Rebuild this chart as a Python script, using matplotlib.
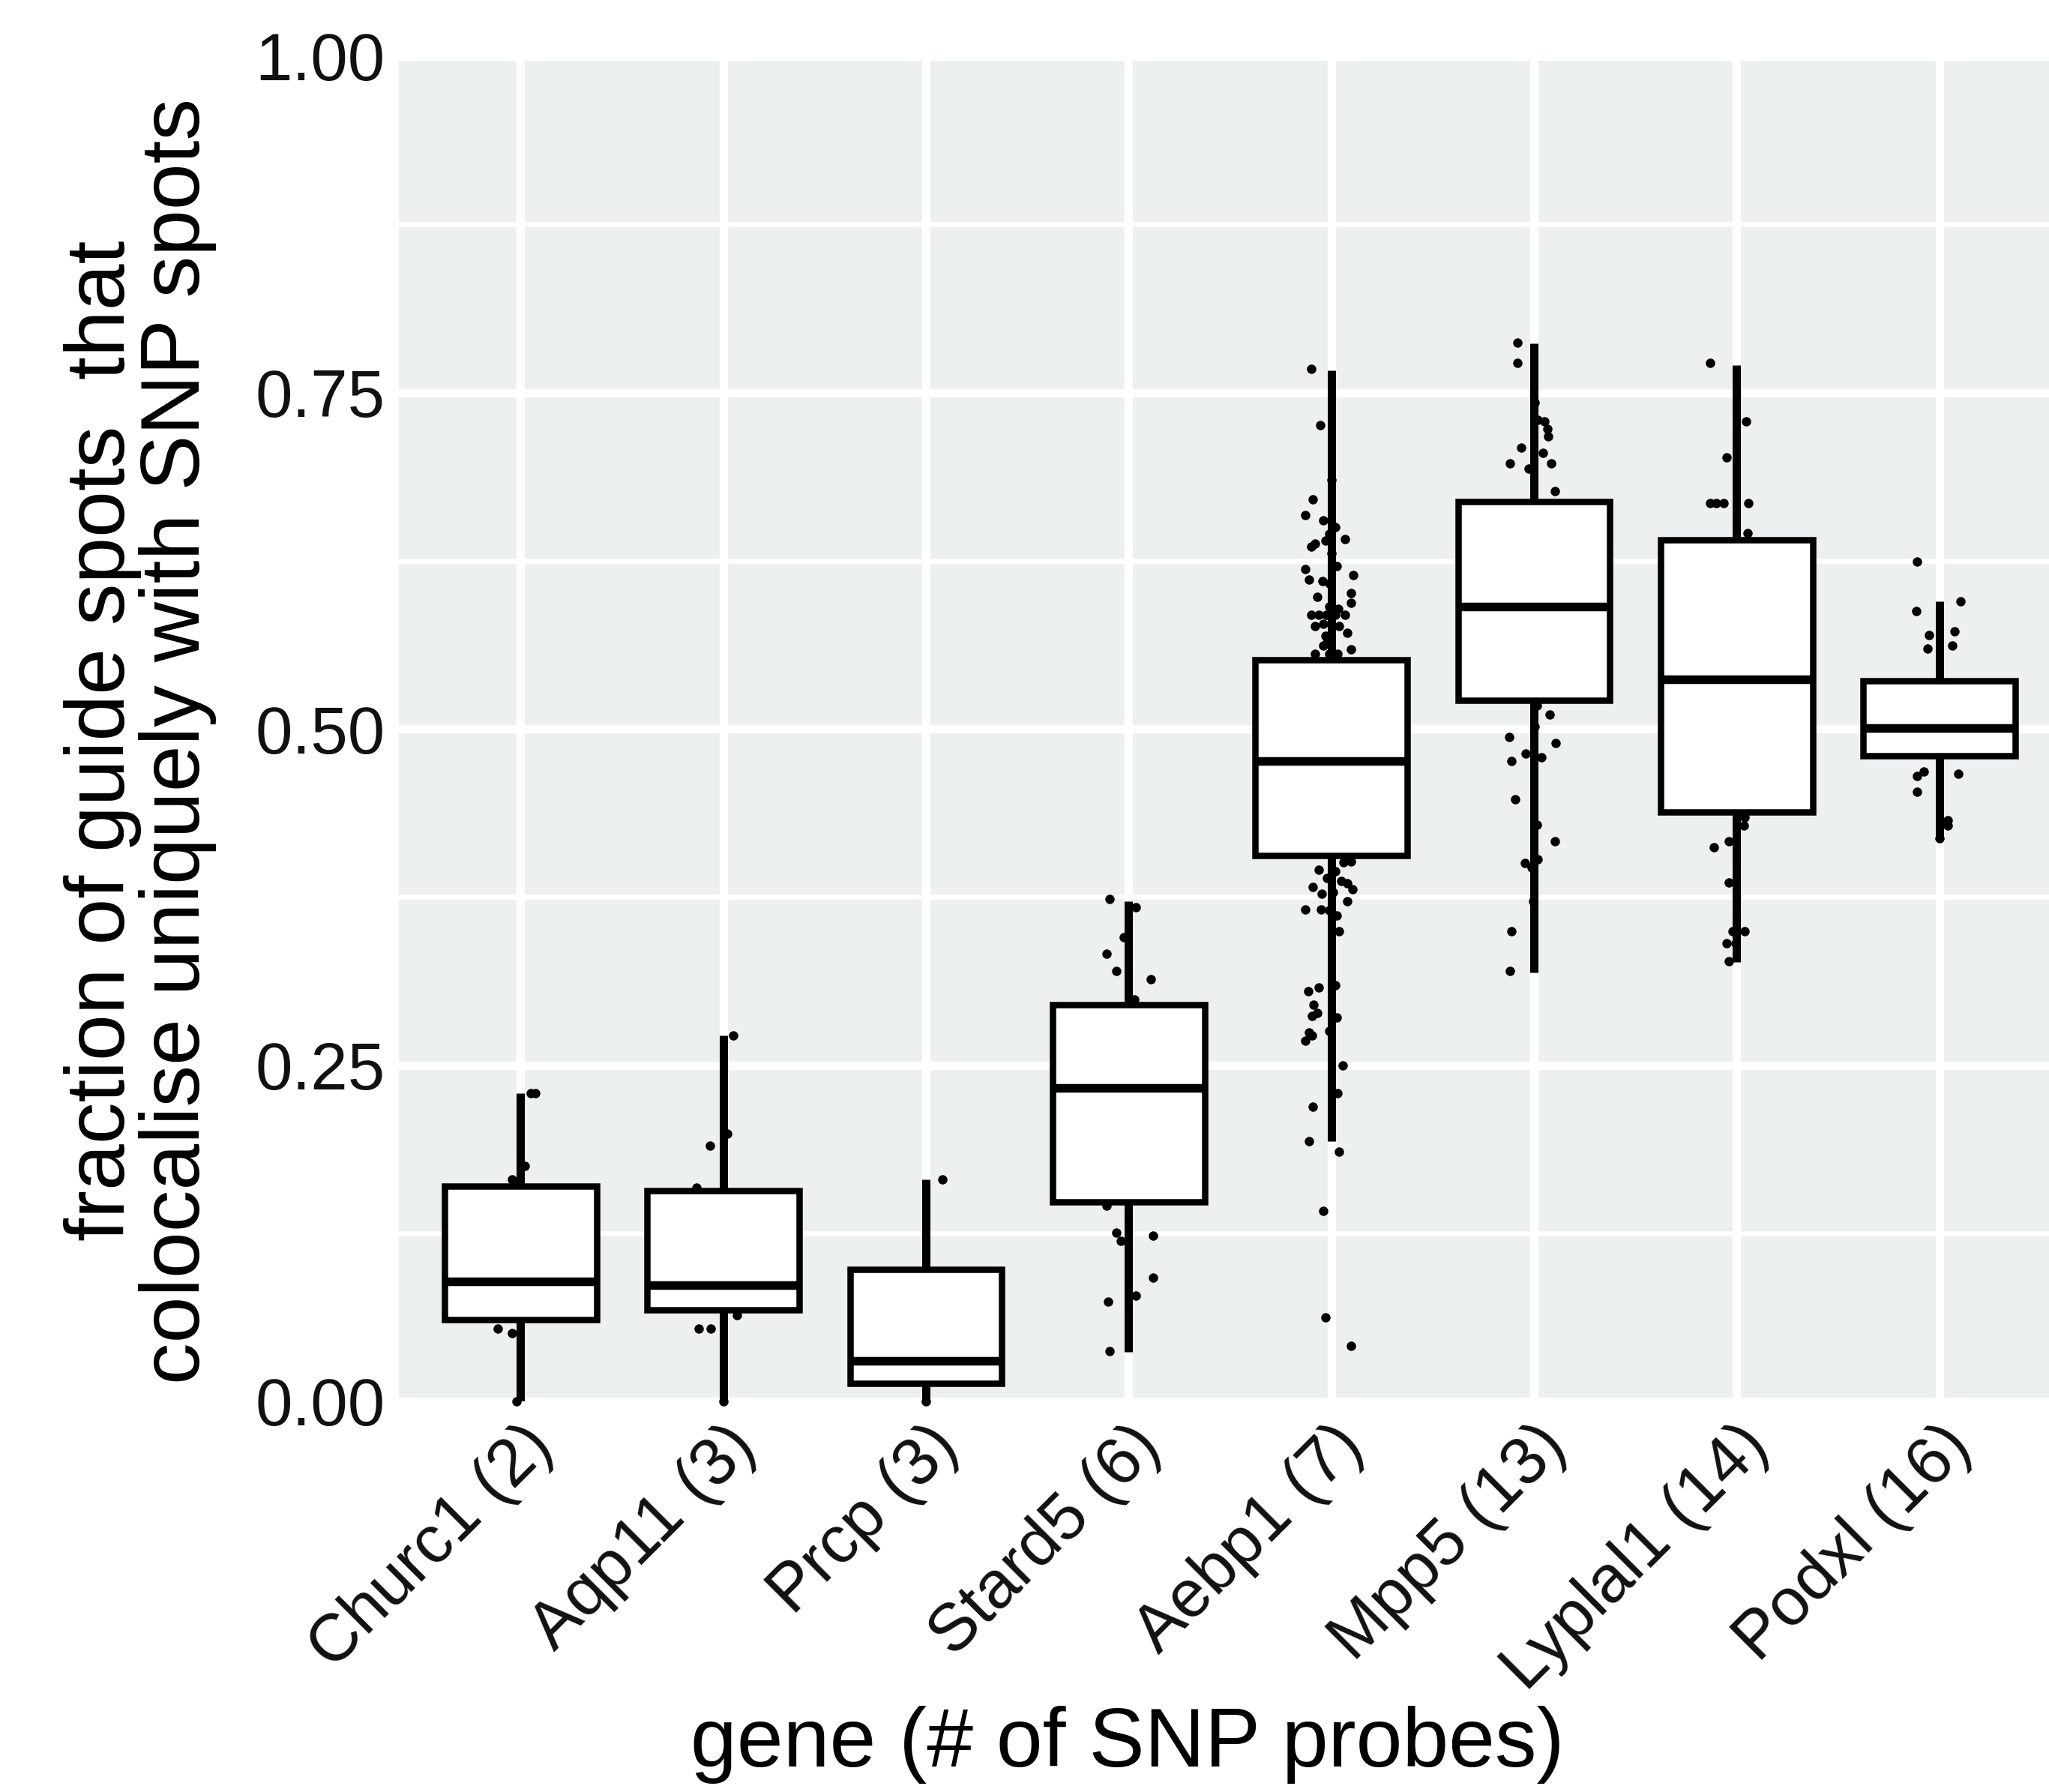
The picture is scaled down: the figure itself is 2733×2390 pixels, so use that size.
import matplotlib
matplotlib.use("Agg")
import matplotlib.pyplot as plt
from matplotlib.ticker import FixedLocator, MultipleLocator

plt.rcParams['font.family'] = ['Liberation Sans', 'DejaVu Sans']

genes = ["Churc1 (2)", "Aqp11 (3)", "Prcp (3)", "Stard5 (6)",
         "Aebp1 (7)", "Mpp5 (13)", "Lyplal1 (14)", "Podxl (16)"]

# box summary per gene
q1 = [0.0605, 0.068, 0.0136, 0.148, 0.4057, 0.5212, 0.438, 0.480]
med = [0.089, 0.0865, 0.030, 0.2328, 0.4758, 0.5907, 0.537, 0.5005]
q3 = [0.160, 0.1567, 0.0979, 0.295, 0.5514, 0.6687, 0.6405, 0.5355]
whislo = [0.0, 0.0, 0.0, 0.037, 0.1934, 0.319, 0.3265, 0.4186]
whishi = [0.229, 0.272, 0.1648, 0.372, 0.7663, 0.7863, 0.7702, 0.595]

# individual measurements (value, horizontal jitter in category units)
churc1_y = [0.229, 0.229, 0.175, 0.165, 0.161, 0.054, 0.051, 0.0]
churc1_jit = [0.05, 0.075, 0.02, -0.04, -0.01, -0.11, -0.04, -0.02]

aqp11_y = [0.272, 0.199, 0.190, 0.159, 0.064, 0.054, 0.054, 0.0]
aqp11_jit = [0.05, 0.02, -0.065, -0.13, 0.067, -0.12, -0.06, 0.0]

prcp_y = [0.165, 0.0]
prcp_jit = [0.08, 0.0]

stard5_y = [0.3733, 0.3671, 0.3448, 0.3328, 0.3199, 0.3136, 0.2987, 0.1457,
            0.1253, 0.1195, 0.1232, 0.0921, 0.0785, 0.0742, 0.0374]
stard5_jit = [-0.094, 0.034, -0.024, -0.11, -0.06, 0.11, 0.03, -0.11,
              -0.06, -0.04, 0.12, 0.12, 0.035, -0.10, -0.094]

aebp1_y = [0.7676, 0.7255, 0.6849, 0.6704, 0.6587, 0.6547, 0.6498, 0.645,
           0.6409, 0.6377, 0.6353, 0.640, 0.6305, 0.6208, 0.6189, 0.6143,
           0.6111, 0.6099, 0.608, 0.601, 0.5979, 0.5938, 0.591, 0.5894,
           0.5846, 0.5846, 0.5846, 0.5846, 0.585, 0.5761, 0.578, 0.5761,
           0.5713, 0.569, 0.564, 0.562, 0.5592, 0.5556, 0.5556, 0.556,
           0.4013, 0.401, 0.3953, 0.3941, 0.3892, 0.3868, 0.3824, 0.385,
           0.3808, 0.3771, 0.3783, 0.3718, 0.3658, 0.3658, 0.365, 0.3614,
           0.3493, 0.3095, 0.3077, 0.3051, 0.295, 0.2889, 0.2865, 0.2853,
           0.2755, 0.2744, 0.272, 0.2679, 0.25, 0.229, 0.2188, 0.1934,
           0.1857, 0.1415, 0.0624, 0.041]
aebp1_jit = [-0.10, -0.055, 0.0, -0.09, -0.13, -0.04, 0.02, -0.01,
             0.066, -0.08, -0.10, -0.03, 0.0, 0.026, -0.127, 0.11,
             -0.11, -0.043, -0.01, 0.098, -0.07, 0.098, -0.01, 0.034,
             -0.10, -0.06, -0.025, 0.02, 0.066, -0.08, -0.04, 0.04,
             0.08, -0.03, -0.02, -0.04, 0.098, -0.08, -0.01, 0.03,
             0.098, 0.06, -0.06, 0.02, -0.02, 0.05, -0.09, 0.08,
             0.106, -0.047, 0.01, 0.08, -0.13, -0.05, -0.01, 0.026,
             0.04, 0.018, -0.063, -0.114, -0.087, -0.07, -0.095, 0.026,
             -0.01, -0.11, -0.095, -0.13, 0.058, 0.03, -0.09, -0.11,
             0.04, -0.04, -0.03, 0.097]

mpp5_y = [0.7869, 0.7718, 0.7426, 0.7297, 0.7287, 0.7231, 0.7176, 0.7092,
          0.7051, 0.6971, 0.6971, 0.6934, 0.6767,
          0.5175, 0.5104, 0.5015, 0.4937, 0.4894, 0.4816, 0.4788, 0.476,
          0.4478, 0.4287, 0.4166, 0.4002, 0.403, 0.397, 0.372, 0.3497, 0.32]
mpp5_jit = [-0.083, -0.083, 0.003, 0.02, 0.05, 0.066, 0.07, -0.062,
            0.046, -0.12, 0.086, -0.025, 0.105,
            0.015, 0.077, 0.003, -0.123, 0.108, -0.04, 0.036, -0.11,
            -0.092, 0.015, 0.105, -0.046, 0.02, -0.01, -0.003, -0.11, -0.12]

lyplal1_y = [0.7718, 0.7287, 0.7018, 0.668, 0.668, 0.668, 0.668, 0.6457,
             0.4342, 0.4283, 0.4166, 0.4119, 0.3855, 0.3497, 0.3497,
             0.3404, 0.3404, 0.3274]
lyplal1_jit = [-0.13, 0.047, -0.05, -0.13, -0.10, -0.065, 0.056, 0.054,
               0.04, 0.035, -0.04, -0.113, -0.037, 0.04, -0.02,
               -0.05, -0.005, -0.037]

podxl_y = [0.6243, 0.595, 0.5875, 0.5726, 0.5698, 0.562, 0.5596,
           0.4648, 0.4684, 0.4666, 0.4531, 0.4318, 0.428, 0.4186]
podxl_jit = [-0.11, 0.104, -0.114, 0.073, -0.05, 0.064, -0.057,
             -0.11, -0.077, 0.092, -0.11, 0.04, 0.04, 0.0]

point_y = [churc1_y, aqp11_y, prcp_y, stard5_y, aebp1_y, mpp5_y, lyplal1_y, podxl_y]
point_jit = [churc1_jit, aqp11_jit, prcp_jit, stard5_jit, aebp1_jit, mpp5_jit,
             lyplal1_jit, podxl_jit]

y_ticks = [0.0, 0.25, 0.5, 0.75, 1.0]
y_ticklabels = ["0.00", "0.25", "0.50", "0.75", "1.00"]

W, H = 2733, 2390
DPI = 100
PX = 72.0 / DPI  # points per pixel

fig = plt.figure(figsize=(W / DPI, H / DPI), dpi=DPI)
fig.patch.set_facecolor("white")

left_px, right_px, top_px, bottom_px = 532, 2749, 75, 1869
ax = fig.add_axes([left_px / W, 1 - bottom_px / H,
                   (right_px - left_px) / W, (bottom_px - top_px) / H])
ax.set_facecolor("#EDF0F1")
for s in ax.spines.values():
    s.set_visible(False)

ax.set_xlim(0.4, 8.6)
ax.set_ylim(0.0, 1.0)

positions = list(range(1, len(genes) + 1))

# jittered points sit beneath the boxes
for pos, ys, js in zip(positions, point_y, point_jit):
    xs = [pos + j for j in js]
    ax.scatter(xs, ys, s=(12.5 * PX) ** 2, color="black", linewidths=0,
               zorder=2, clip_on=False)

stats = []
for g, a, m, b, lo, hi in zip(genes, q1, med, q3, whislo, whishi):
    stats.append(dict(label=g, q1=a, med=m, q3=b, whislo=lo, whishi=hi, fliers=[]))

ax.bxp(stats, positions=positions, widths=0.75, patch_artist=True,
       showcaps=False, showfliers=False, manage_ticks=False, zorder=3,
       boxprops=dict(facecolor="white", edgecolor="black", linewidth=8.5 * PX,
                     joinstyle="miter"),
       medianprops=dict(color="black", linewidth=11.5 * PX, solid_capstyle="butt"),
       whiskerprops=dict(color="black", linewidth=11 * PX, solid_capstyle="butt"))

# grid
ax.set_axisbelow(True)
ax.yaxis.set_major_locator(FixedLocator(y_ticks))
ax.yaxis.set_minor_locator(MultipleLocator(0.125))
ax.set_yticks(y_ticks)
ax.set_yticklabels(y_ticklabels)
ax.set_xticks(positions)
ax.set_xticklabels(genes, rotation=45, ha="right", va="top", rotation_mode="anchor")
ax.grid(which="major", axis="both", color="white", linewidth=11 * PX)
ax.grid(which="minor", axis="y", color="white", linewidth=6.5 * PX)

ax.tick_params(axis="both", which="both", length=0)
ax.tick_params(axis="y", labelsize=64, pad=13, labelcolor="#111111")
ax.tick_params(axis="x", labelsize=64, pad=12, labelcolor="#111111")

fig.text(1504 / W, 1 - 2327 / H, "gene (# of SNP probes)", fontsize=80,
         ha="center", va="center", color="black")
fig.text(187 / W, 1 - 988 / H,
         "fraction of guide spots  that\ncolocalise uniquely with SNP spots",
         fontsize=80, rotation=90, ha="center", va="center",
         multialignment="center", linespacing=0.95, color="black")

fig.savefig("out.png", dpi=DPI)
